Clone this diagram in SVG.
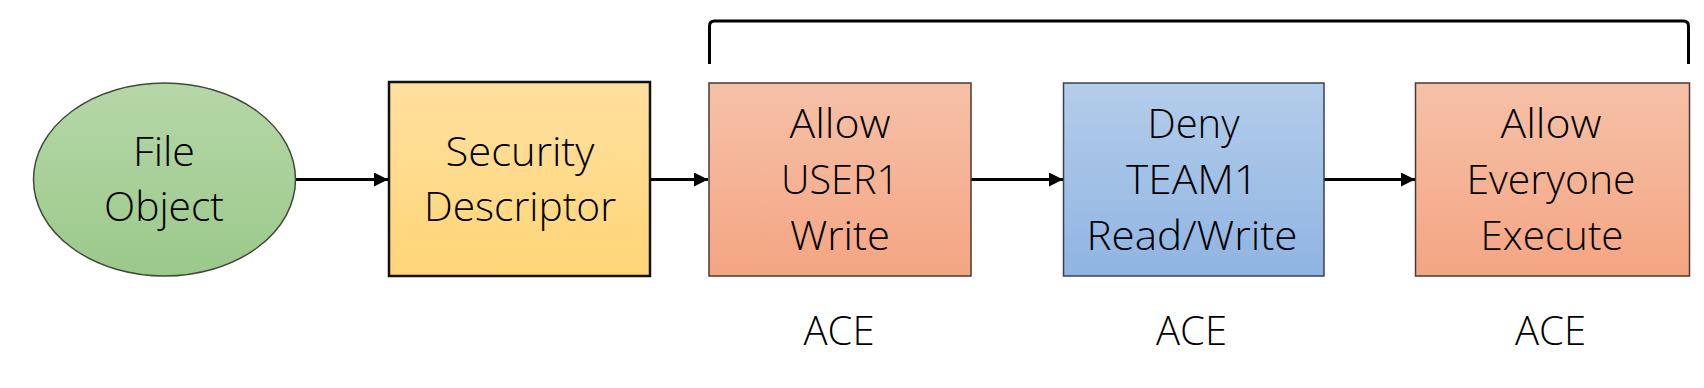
<svg xmlns="http://www.w3.org/2000/svg" width="1704" height="388" viewBox="0 0 1704 388">
<style>
  .t { font-family: "Open Sans", "Noto Sans", "Liberation Sans", sans-serif; font-weight: 300; font-size: 41px; fill: #000; text-anchor: middle; }
  .conn { stroke: #000; stroke-width: 3; fill: none; }
</style>
<defs>
  <linearGradient id="gGreen" x1="0" y1="0" x2="0" y2="1">
    <stop offset="0" stop-color="#b6d7a8"/>
    <stop offset="1" stop-color="#9bc98a"/>
  </linearGradient>
  <linearGradient id="gGold" x1="0" y1="0" x2="0" y2="1">
    <stop offset="0" stop-color="#ffe09f"/>
    <stop offset="1" stop-color="#ffd577"/>
  </linearGradient>
  <linearGradient id="gOrange" x1="0" y1="0" x2="0" y2="1">
    <stop offset="0" stop-color="#f6c1a8"/>
    <stop offset="1" stop-color="#f4a582"/>
  </linearGradient>
  <linearGradient id="gBlue" x1="0" y1="0" x2="0" y2="1">
    <stop offset="0" stop-color="#b4cdea"/>
    <stop offset="1" stop-color="#8fb4e2"/>
  </linearGradient>
  <marker id="arr" viewBox="0 0 14 14" refX="14" refY="7" markerWidth="14" markerHeight="14" markerUnits="userSpaceOnUse" orient="auto">
    <path d="M0,0 L14,7 L0,14 Z" fill="#000"/>
  </marker>
</defs>

<g id="connectors">
  <line class="conn" x1="296" y1="179.5" x2="388" y2="179.5" marker-end="url(#arr)"/>
  <line class="conn" x1="651" y1="179.5" x2="708" y2="179.5" marker-end="url(#arr)"/>
  <line class="conn" x1="971" y1="179.5" x2="1063" y2="179.5" marker-end="url(#arr)"/>
  <line class="conn" x1="1324" y1="179.5" x2="1415" y2="179.5" marker-end="url(#arr)"/>
  <path class="conn" stroke-width="3.5" d="M709.5,64 L709.5,26 Q709.5,21 714.5,21 L1683.5,21 Q1688.5,21 1688.5,26 L1688.5,64"/>
</g>

<g id="file-object">
  <ellipse cx="164.5" cy="179.5" rx="131" ry="96.5" fill="url(#gGreen)" stroke="#3f4a3a" stroke-width="1.5"/>
  <text class="t" x="164" y="166" textLength="62" lengthAdjust="spacingAndGlyphs">File</text>
  <text class="t" x="164" y="221" textLength="120" lengthAdjust="spacingAndGlyphs">Object</text>
</g>

<g id="security-descriptor">
  <rect x="389" y="82" width="261" height="194" fill="url(#gGold)" stroke="#111" stroke-width="2.5"/>
  <text class="t" x="520" y="166" textLength="149" lengthAdjust="spacingAndGlyphs">Security</text>
  <text class="t" x="520" y="221" textLength="192" lengthAdjust="spacingAndGlyphs">Descriptor</text>
</g>

<g id="ace1">
  <rect x="709" y="83" width="262" height="193" fill="url(#gOrange)" stroke="#4a3a34" stroke-width="1.5"/>
  <text class="t" x="840" y="138" textLength="101" lengthAdjust="spacingAndGlyphs">Allow</text>
  <text class="t" x="840" y="193.5" textLength="118" lengthAdjust="spacingAndGlyphs">USER1</text>
  <text class="t" x="840" y="249.5" textLength="100" lengthAdjust="spacingAndGlyphs">Write</text>
  <text class="t" x="839" y="345" textLength="71" lengthAdjust="spacingAndGlyphs">ACE</text>
</g>

<g id="ace2">
  <rect x="1063.5" y="83" width="260.5" height="193" fill="url(#gBlue)" stroke="#3a4250" stroke-width="1.5"/>
  <text class="t" x="1193.5" y="138" textLength="92" lengthAdjust="spacingAndGlyphs">Deny</text>
  <text class="t" x="1192" y="193.5" textLength="132" lengthAdjust="spacingAndGlyphs">TEAM1</text>
  <text class="t" x="1192" y="249.5" textLength="211" lengthAdjust="spacingAndGlyphs">Read/Write</text>
  <text class="t" x="1191.5" y="345" textLength="71" lengthAdjust="spacingAndGlyphs">ACE</text>
</g>

<g id="ace3">
  <rect x="1415.5" y="83" width="274" height="193" fill="url(#gOrange)" stroke="#4a3a34" stroke-width="1.5"/>
  <text class="t" x="1551" y="138" textLength="101" lengthAdjust="spacingAndGlyphs">Allow</text>
  <text class="t" x="1551" y="193.5" textLength="169" lengthAdjust="spacingAndGlyphs">Everyone</text>
  <text class="t" x="1552" y="249.5" textLength="143" lengthAdjust="spacingAndGlyphs">Execute</text>
  <text class="t" x="1550.5" y="345" textLength="71" lengthAdjust="spacingAndGlyphs">ACE</text>
</g>
</svg>
